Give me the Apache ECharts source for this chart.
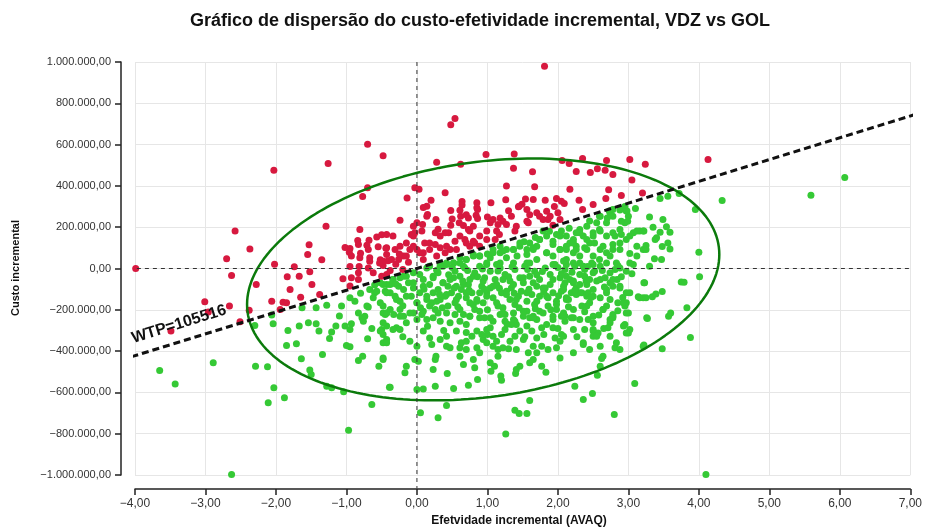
<!DOCTYPE html>
<html>
<head>
<meta charset="utf-8">
<script src="https://cdn.jsdelivr.net/npm/echarts@6.0.0/dist/echarts.min.js"></script>
<style>
  html, body { margin: 0; padding: 0; background: #fff; }
  #chart { width: 925px; height: 530px; }
</style>
</head>
<body>
<div id="chart"></div>
<script>
// willingness-to-pay threshold (slope of the dashed line)
const wtp = 105516

// 95% ellipse: centre and two half-axis vectors
const ellipseCenter = [0.94, -53e3]
const ellipseAxisU = [3.35, 121e3]
const ellipseAxisV = [0, -573e3]

// [incremental effect (AVAQ), incremental cost] - not cost-effective (above WTP)
const redPoints = [
  [-3.99, 0], [-2.03, 476e3], [-1.26, 508e3], [-0.70, 602e3], [-0.48, 546e3], [-0.70, 391e3], [-0.77, 349e3],
  [-2.58, 182e3], [-2.37, 94e3], [-2.70, 47e3], [-2.02, 21e3], [-1.74, 8e3], [-1.29, 205e3], [-1.53, 115e3],
  [-1.55, 68e3], [-1.35, 42e3], [-0.81, 189e3], [-1.02, 102e3], [-0.95, 97e3], [-0.96, 79e3], [-0.84, 136e3],
  [-0.83, 116e3], [-0.68, 137e3], [-0.71, 113e3], [-0.80, 74e3], [-0.57, 153e3], [-0.50, 163e3], [-0.55, 105e3],
  [-0.44, 98e3], [-0.67, 52e3], [-0.67, 35e3], [-0.52, 42e3], [-0.41, 37e3], [-0.95, 10e3], [-0.82, 10e3], [-0.48, 15e3],
  [-2.63, -34e3], [-2.28, -77e3], [-3.01, -161e3], [-2.96, -211e3], [-2.66, -182e3], [-3.49, -303e3], [-2.51, -258e3],
  [-1.84, -40e3], [-1.67, -37e3], [-1.52, -16e3], [-1.49, -77e3], [-1.80, -102e3], [-2.06, -158e3], [-1.90, -163e3],
  [-1.85, -166e3], [-1.94, -199e3], [-2.38, -202e3], [-1.65, -139e3], [-1.38, -126e3], [-1.05, -50e3], [-0.93, -45e3],
  [-0.95, -85e3], [-0.83, -21e3], [-0.83, -53e3], [-0.69, 3e3], [-0.62, -21e3], [-0.50, -37e3], [-0.53, 27e3], [-0.43, -29e3],
  [1.81, 980e3], [0.48, 696e3], [0.54, 726e3], [0.28, 515e3], [0.62, 505e3], [0.98, 552e3], [1.38, 555e3], [1.37, 486e3],
  [1.64, 468e3], [1.27, 399e3], [1.67, 396e3], [2.06, 523e3], [2.16, 508e3], [2.35, 533e3], [2.26, 470e3], [2.46, 465e3],
  [2.56, 483e3], [2.67, 476e3], [2.69, 523e3], [2.78, 455e3], [3.02, 528e3], [3.24, 505e3], [3.05, 428e3], [2.17, 384e3],
  [2.72, 381e3], [2.90, 354e3], [2.68, 339e3], [-0.03, 391e3], [0.03, 384e3], [-0.14, 342e3], [0.40, 367e3], [-0.24, 234e3],
  [1.98, 339e3], [2.05, 326e3], [2.09, 315e3], [1.82, 331e3], [1.65, 334e3], [1.54, 336e3], [1.49, 311e3], [1.44, 299e3],
  [1.26, 333e3], [1.05, 318e3], [0.85, 318e3], [0.85, 294e3], [0.84, 258e3], [0.86, 242e3], [0.64, 324e3], [0.64, 308e3],
  [0.61, 282e3], [0.62, 253e3], [0.60, 221e3], [0.66, 208e3], [0.48, 281e3], [0.48, 210e3], [0.45, 173e3], [0.14, 302e3],
  [0.09, 295e3], [0.15, 262e3], [0.08, 213e3], [0.07, 181e3], [0.11, 124e3], [0.27, 237e3], [0.26, 173e3], [0.26, 116e3],
  [-0.05, 205e3], [-0.08, 165e3], [-0.03, 173e3], [1.18, 245e3], [1.22, 229e3], [1.15, 213e3], [1.13, 181e3], [1.11, 140e3],
  [1.17, 165e3], [1.34, 253e3], [1.41, 205e3], [1.39, 181e3], [1.56, 286e3], [1.58, 221e3], [1.70, 270e3], [1.74, 253e3],
  [1.84, 277e3], [1.86, 237e3], [1.93, 210e3], [2.00, 270e3], [2.03, 237e3], [1.04, 221e3], [0.99, 181e3], [0.89, 157e3],
  [0.82, 124e3], [0.75, 108e3], [0.73, 189e3], [0.68, 140e3], [0.61, 157e3], [0.54, 132e3], [0.47, 92e3], [0.40, 76e3],
  [0.33, 100e3], [0.18, 92e3], [0.09, 76e3], [0.00, 92e3], [-0.34, 157e3], [-0.43, 100e3], [-0.31, 92e3], [-0.24, 108e3],
  [-0.15, 124e3], [-0.10, 92e3], [-0.19, 60e3], [-0.36, 44e3], [-0.48, 35e3], [-0.43, 165e3],
  [4.13, 528e3], [3.20, 366e3], [2.35, 286e3], [-0.69, 92e3], [-0.81, 52e3], [-0.93, 60e3],
  [0.14, 253e3], [-0.05, 157e3], [0.00, 221e3], [0.40, 173e3], [0.73, 245e3], [0.80, 205e3], [0.86, 286e3], [0.75, 181e3],
  [1.08, 237e3], [1.27, 213e3], [1.56, 229e3], [1.45, 302e3], [1.79, 237e3], [1.89, 253e3],
  [-0.43, 68e3], [-0.26, 44e3], [-0.15, 60e3], [-0.05, 108e3], [0.04, 76e3], [0.09, 44e3], [0.18, 124e3], [0.28, 60e3],
  [0.33, 157e3], [0.42, 108e3], [0.56, 92e3], [0.70, 124e3], [0.80, 132e3], [0.99, 140e3], [0.89, 108e3],
  [-0.30, 20e3], [-0.20, -5e3], [-0.12, 30e3], [-0.25, 70e3], [-0.38, -10e3],
  [1.00, 250e3], [1.30, 280e3], [0.50, 240e3], [0.30, 190e3], [0.20, 330e3], [1.60, 260e3], [1.95, 300e3], [2.30, 330e3],
  [2.50, 310e3], [0.70, 260e3]
]

// cost-effective points (below WTP)
const greenPoints = [
  [-3.65, -494e3], [-3.43, -559e3], [-2.89, -457e3], [-2.63, -998e3], [-2.30, -276e3], [-2.04, -268e3], [-2.29, -473e3],
  [-2.12, -476e3], [-2.03, -578e3], [-2.11, -650e3], [-1.88, -626e3], [-2.06, -225e3], [-1.85, -373e3], [-1.83, -300e3],
  [-1.71, -365e3], [-1.67, -279e3], [-1.63, -190e3], [-1.54, -263e3], [-1.43, -268e3], [-1.39, -303e3], [-1.64, -437e3],
  [-1.52, -492e3], [-1.50, -513e3], [-1.34, -416e3], [-1.43, -190e3], [-1.28, -178e3], [-1.24, -339e3], [-1.21, -307e3],
  [-1.15, -279e3], [-1.28, -570e3], [-1.21, -578e3], [-1.07, -182e3], [-1.04, -597e3], [-0.97, -783e3], [-1.02, -279e3],
  [-0.95, -295e3], [-0.93, -268e3], [-1.00, -373e3], [-0.95, -379e3], [-0.83, -446e3], [-0.77, -425e3], [-0.95, -142e3],
  [-0.88, -158e3], [-0.83, -215e3], [-0.78, -239e3], [-0.76, -255e3], [-0.74, -231e3], [-0.69, -186e3], [-0.71, -182e3],
  [-0.67, -102e3], [-0.60, -118e3], [-0.57, -110e3], [-0.62, -142e3], [-0.64, -291e3], [-0.50, -295e3], [-0.48, -320e3],
  [-0.45, -223e3], [-0.48, -215e3], [-0.43, -215e3], [-0.54, -473e3], [-0.48, -441e3], [-0.64, -659e3], [-0.39, -575e3],
  [-0.48, -360e3], [-0.43, -344e3],
  [-0.38, -575e3], [0.00, -586e3], [0.09, -583e3], [0.05, -699e3], [0.30, -723e3], [0.42, -663e3], [0.26, -570e3],
  [0.52, -581e3], [0.73, -565e3], [0.86, -538e3], [1.26, -801e3], [1.39, -686e3], [1.45, -702e3], [1.56, -702e3],
  [1.60, -639e3], [1.19, -521e3], [1.20, -541e3], [1.40, -508e3], [1.05, -497e3], [1.83, -502e3], [2.24, -570e3],
  [2.36, -634e3], [2.49, -605e3], [2.80, -707e3], [3.09, -557e3], [2.56, -517e3], [2.62, -436e3], [2.03, -433e3],
  [1.77, -473e3], [1.60, -457e3], [1.65, -441e3], [1.41, -489e3], [1.46, -473e3], [1.15, -425e3], [1.10, -473e3],
  [1.04, -457e3], [0.82, -481e3], [0.80, -441e3], [0.66, -465e3], [0.61, -425e3], [0.43, -509e3], [0.23, -489e3],
  [0.26, -441e3], [0.27, -425e3], [-0.03, -441e3], [0.02, -449e3], [-0.15, -473e3], [-0.17, -505e3], [-0.48, -433e3],
  [0.42, -376e3], [0.47, -384e3], [0.61, -384e3], [0.70, -392e3], [0.85, -384e3], [0.89, -408e3], [0.94, -344e3],
  [0.99, -360e3], [1.08, -376e3], [1.15, -392e3], [1.22, -384e3], [1.30, -389e3], [1.41, -392e3], [1.51, -344e3],
  [1.58, -408e3], [1.65, -376e3], [1.70, -408e3], [1.77, -376e3], [1.86, -392e3], [1.98, -384e3], [2.03, -352e3],
  [2.36, -368e3], [2.60, -376e3], [2.83, -360e3], [2.81, -384e3], [3.21, -376e3],
  [-0.43, -360e3], [-0.29, -287e3], [-0.24, -295e3], [-0.10, -352e3], [-0.34, -295e3], [-0.43, -279e3], [-0.52, -303e3],
  [0.00, -376e3], [0.09, -303e3], [0.18, -336e3], [0.21, -368e3], [0.33, -344e3], [0.42, -328e3], [0.56, -303e3],
  [0.63, -360e3], [0.70, -352e3], [0.78, -328e3], [0.85, -303e3], [0.92, -320e3], [0.99, -295e3], [1.08, -328e3],
  [1.13, -352e3], [1.20, -320e3], [1.25, -295e3], [1.32, -352e3], [1.39, -328e3], [1.46, -303e3], [1.56, -279e3],
  [1.63, -303e3], [1.70, -336e3], [1.77, -287e3], [1.84, -271e3], [1.93, -287e3], [1.96, -336e3], [2.05, -320e3],
  [2.22, -239e3], [2.38, -295e3], [2.50, -303e3], [2.57, -312e3], [2.50, -328e3], [2.74, -247e3], [2.78, -239e3],
  [2.71, -287e3], [2.95, -271e3], [3.00, -312e3], [3.02, -295e3], [3.26, -239e3], [2.97, -166e3], [3.00, -215e3],
  [2.95, -182e3], [3.14, -137e3], [3.21, -142e3], [3.23, -69e3], [2.85, -166e3], [2.78, -223e3], [2.69, -182e3],
  [2.64, -199e3], [2.45, -166e3], [2.50, -263e3], [2.43, -247e3], [2.34, -182e3], [2.41, -134e3], [2.43, -118e3],
  [2.19, -239e3], [2.10, -255e3], [2.05, -231e3], [2.08, -215e3], [1.93, -231e3], [1.98, -199e3], [1.86, -182e3],
  [1.74, -207e3], [1.70, -247e3], [1.65, -231e3], [1.56, -207e3], [1.60, -239e3], [1.51, -231e3], [1.39, -255e3],
  [1.41, -271e3], [1.37, -215e3], [1.34, -271e3], [1.25, -255e3], [1.25, -223e3], [1.18, -223e3], [1.08, -255e3],
  [1.04, -287e3], [0.96, -239e3], [0.89, -239e3], [0.82, -199e3], [0.75, -231e3], [0.70, -271e3], [0.66, -223e3],
  [0.61, -255e3], [0.54, -223e3], [0.47, -263e3], [0.44, -182e3], [0.33, -255e3], [0.30, -215e3], [0.26, -199e3],
  [0.21, -166e3], [0.14, -247e3], [0.07, -223e3], [0.00, -247e3], [-0.05, -215e3], [-0.15, -263e3], [-0.19, -231e3],
  [-0.24, -199e3], [-0.33, -223e3], [-0.43, -215e3], [-0.48, -182e3], [-0.52, -166e3], [-0.48, -263e3], [-0.38, -118e3],
  [-0.31, -134e3], [-0.45, -110e3], [-0.24, -158e3], [-0.19, -102e3], [-0.12, -69e3], [-0.08, -134e3], [0.00, -166e3],
  [0.04, -118e3], [0.09, -86e3], [0.14, -150e3], [0.18, -182e3], [0.23, -118e3], [0.30, -102e3], [0.33, -150e3],
  [0.40, -134e3], [0.44, -86e3], [0.49, -118e3], [0.54, -166e3], [0.59, -134e3], [0.63, -102e3], [0.70, -142e3],
  [0.75, -166e3], [0.78, -118e3], [0.85, -150e3], [0.89, -118e3], [0.94, -166e3], [0.99, -118e3], [1.04, -94e3],
  [1.08, -142e3], [1.15, -182e3], [1.20, -118e3], [1.27, -110e3], [1.32, -150e3], [1.39, -174e3], [1.44, -134e3],
  [1.48, -110e3], [1.56, -158e3], [1.63, -126e3], [1.67, -174e3], [1.74, -134e3], [1.82, -94e3], [1.86, -142e3],
  [1.93, -118e3], [1.98, -158e3], [2.05, -110e3], [2.12, -150e3], [2.19, -118e3], [2.26, -94e3], [2.34, -118e3],
  [2.41, -77e3], [2.50, -102e3], [2.60, -142e3], [2.69, -118e3], [2.78, -86e3], [2.84, -53e3], [2.88, -94e3], [3.02, -118e3],
  [-0.52, -69e3], [-0.43, -77e3], [-0.34, -53e3], [-0.24, -45e3], [-0.15, -37e3], [-0.05, -21e3], [0.04, -29e3],
  [0.14, 3e3], [0.23, -45e3], [0.30, -21e3], [0.37, 11e3], [0.47, -53e3], [0.54, -13e3], [0.61, -37e3], [0.68, 3e3],
  [0.75, -53e3], [0.82, -21e3], [0.89, 11e3], [0.96, -45e3], [1.04, -13e3], [1.11, -53e3], [1.18, 3e3], [1.25, -29e3],
  [1.32, -61e3], [1.39, -5e3], [1.46, -45e3], [1.53, 11e3], [1.60, -37e3], [1.67, -13e3], [1.74, -53e3], [1.82, 3e3],
  [1.89, -29e3], [1.96, 19e3], [2.03, -45e3], [2.10, -5e3], [2.17, -53e3], [2.24, 11e3], [2.31, -29e3], [2.38, -5e3],
  [2.45, -53e3], [2.52, -13e3], [2.60, 11e3], [2.67, -45e3], [2.74, -21e3], [2.81, -5e3], [2.88, 3e3], [2.97, -13e3], [3.07, 19e3],
  [-0.38, -77e3], [-0.26, -86e3], [-0.05, -94e3], [0.18, -77e3], [0.37, -69e3], [0.56, -86e3], [0.73, -77e3], [0.92, -86e3],
  [1.13, -77e3], [1.34, -94e3], [1.51, -69e3], [1.70, -86e3], [1.89, -77e3], [2.10, -69e3], [2.31, -77e3], [2.55, -61e3], [2.74, -69e3],
  [2.55, 221e3], [2.60, 253e3], [2.74, 270e3], [2.78, 286e3], [2.97, 278e3], [3.00, 253e3], [2.95, 221e3], [2.88, 189e3],
  [2.78, 173e3], [2.69, 157e3], [2.60, 181e3], [2.50, 157e3], [2.45, 124e3], [2.36, 157e3], [2.31, 189e3], [2.41, 205e3],
  [2.26, 108e3], [2.17, 124e3], [2.12, 157e3], [2.05, 181e3], [1.98, 165e3], [1.93, 132e3], [1.84, 157e3], [1.79, 181e3],
  [1.74, 140e3], [1.70, 108e3], [1.65, 92e3], [1.60, 124e3], [1.56, 92e3], [1.46, 108e3], [1.37, 92e3], [1.27, 92e3],
  [1.18, 76e3], [1.08, 92e3], [1.04, 52e3], [0.89, 60e3], [0.80, 60e3], [0.70, 44e3], [0.61, 27e3], [0.52, 27e3],
  [0.42, 19e3], [0.33, 11e3], [1.84, 76e3], [1.93, 60e3], [2.03, 92e3], [2.12, 44e3], [2.22, 76e3], [2.31, 60e3],
  [2.41, 92e3], [2.50, 60e3], [2.60, 92e3], [2.69, 76e3], [2.78, 92e3], [2.88, 124e3], [2.97, 140e3], [3.07, 173e3],
  [3.16, 181e3], [3.21, 92e3], [3.12, 60e3], [3.02, 27e3], [2.83, 27e3], [2.69, 27e3], [2.50, 19e3], [2.31, 27e3],
  [2.12, 19e3], [1.93, 19e3], [1.70, 44e3], [1.56, 27e3], [1.37, 27e3], [1.18, 27e3], [0.99, 19e3],
  [3.45, 339e3], [3.56, 350e3], [3.72, 363e3], [4.33, 329e3], [5.59, 355e3], [6.07, 441e3], [3.95, 286e3], [3.49, 237e3],
  [3.54, 202e3], [3.59, 176e3], [3.22, 181e3], [3.38, 140e3], [3.40, 149e3], [3.25, 111e3], [3.25, 92e3], [3.48, 107e3],
  [3.56, 124e3], [3.59, 95e3], [4.00, 79e3], [3.37, 47e3], [3.47, 44e3], [3.30, 11e3],
  [3.22, -69e3], [4.01, -40e3], [3.75, -65e3], [3.79, -66e3], [3.16, -142e3], [3.25, -142e3], [3.34, -137e3], [3.39, -123e3],
  [3.48, -111e3], [3.83, -190e3], [3.57, -231e3], [3.60, -215e3], [3.27, -242e3], [3.88, -334e3], [3.48, -389e3],
  [3.22, -371e3], [4.10, -998e3],
  [2.73, 278e3], [2.88, 283e3], [2.98, 278e3], [2.99, 229e3], [2.90, 229e3], [2.78, 253e3], [2.69, 221e3], [2.59, 253e3],
  [2.59, 189e3], [2.50, 173e3], [2.41, 140e3], [2.31, 173e3], [2.22, 140e3], [2.12, 108e3], [2.03, 92e3], [2.26, 92e3],
  [2.38, 100e3], [2.52, 124e3], [2.64, 108e3], [2.78, 116e3], [2.88, 92e3], [2.74, 60e3], [2.59, 44e3], [2.48, 27e3],
  [2.36, 11e3], [2.22, 27e3], [2.10, 36e3], [3.02, 157e3], [2.90, 165e3], [2.81, 157e3], [3.12, 181e3], [3.21, 181e3],
  [3.12, 108e3], [3.02, 73e3],
  [2.12, -37e3], [2.22, -69e3], [2.08, -102e3], [2.31, -118e3], [2.15, -150e3], [2.38, -37e3], [2.50, -21e3], [2.60, -53e3],
  [2.69, -102e3], [2.78, -53e3], [2.88, -86e3], [2.97, -118e3], [2.93, -166e3], [2.74, -150e3], [2.50, -134e3], [2.41, -182e3],
  [2.22, -199e3], [2.10, -231e3], [2.31, -247e3], [2.50, -231e3], [2.64, -199e3], [2.78, -231e3], [2.97, -215e3], [2.93, -279e3],
  [2.74, -263e3], [2.50, -295e3], [2.22, -295e3], [2.08, -328e3], [2.36, -360e3], [2.55, -328e3], [2.74, -328e3], [2.97, -312e3],
  [2.88, -392e3], [2.64, -425e3], [2.45, -392e3], [2.22, -408e3], [2.60, -473e3],
  [0.33, 19e3], [0.42, 27e3], [0.52, 27e3], [0.61, 52e3], [0.70, 44e3], [0.80, 68e3], [0.89, 60e3], [0.99, 27e3],
  [1.08, 76e3], [1.18, 108e3], [1.27, 52e3], [1.37, 92e3], [1.46, 124e3], [1.56, 68e3], [1.65, 100e3], [1.74, 140e3],
  [1.84, 76e3], [1.93, 116e3], [2.03, 157e3], [2.12, 92e3], [2.22, 124e3], [2.26, 173e3], [0.18, 11e3], [0.66, 11e3],
  [1.13, 19e3], [1.60, 27e3], [2.08, 36e3],
  [-0.48, -77e3], [-0.34, -53e3], [-0.19, -37e3], [-0.05, -69e3], [0.09, -53e3], [0.23, -37e3], [0.37, -69e3], [0.52, -45e3],
  [0.66, -77e3], [0.80, -37e3], [0.94, -61e3], [1.08, -86e3], [1.22, -53e3], [1.37, -77e3], [1.51, -45e3], [1.65, -69e3],
  [1.79, -94e3], [1.93, -53e3], [2.08, -86e3], [2.22, -61e3],
  [-0.43, -118e3], [-0.29, -150e3], [-0.15, -134e3], [0.00, -166e3], [0.14, -134e3], [0.28, -158e3], [0.42, -126e3],
  [0.56, -150e3], [0.70, -118e3], [0.85, -158e3], [0.99, -134e3], [1.13, -166e3], [1.27, -126e3], [1.41, -150e3],
  [1.56, -118e3], [1.70, -158e3], [1.84, -134e3], [1.98, -174e3], [2.12, -142e3], [2.26, -126e3],
  [-0.38, -199e3], [-0.24, -231e3], [-0.10, -215e3], [0.09, -207e3], [0.23, -239e3], [0.42, -215e3], [0.61, -199e3],
  [0.75, -231e3], [0.89, -207e3], [1.04, -239e3], [1.22, -215e3], [1.37, -247e3], [1.51, -207e3], [1.65, -239e3],
  [1.79, -215e3], [1.93, -247e3], [2.08, -223e3],
  [0.28, -8e3], [0.50, 5e3], [0.72, -10e3], [0.93, -3e3], [1.15, -12e3], [1.35, 8e3], [1.57, -5e3], [1.78, -15e3],
  [2.00, 5e3], [2.20, -18e3], [2.42, 10e3], [2.63, -10e3], [2.85, 15e3], [3.05, -25e3],
  [0.10, -100e3], [0.32, -125e3], [0.53, -95e3], [0.74, -105e3], [0.96, -100e3], [1.17, -96e3], [1.38, -120e3],
  [1.59, -100e3], [1.80, -115e3], [2.01, -132e3], [2.24, -105e3], [2.47, -140e3], [2.66, -90e3], [2.92, -140e3],
  [-0.20, -180e3], [0.05, -190e3], [0.36, -190e3], [0.58, -185e3], [0.80, -175e3], [1.00, -200e3], [1.22, -190e3],
  [1.45, -190e3], [1.68, -195e3], [1.90, -200e3], [2.15, -185e3], [2.38, -210e3], [2.58, -225e3], [2.85, -205e3],
  [1.00, 70e3], [1.22, 85e3], [1.42, 60e3], [1.52, 130e3], [1.68, 150e3], [1.88, 180e3], [2.16, 195e3], [2.45, 230e3],
  [2.70, 245e3], [2.95, 300e3], [3.10, 290e3], [3.30, 250e3], [3.35, 200e3], [3.45, 175e3],
  [0.15, -280e3], [0.38, -300e3], [0.70, -310e3], [1.00, -320e3], [1.28, -270e3], [1.53, -330e3], [1.80, -320e3],
  [2.00, -290e3], [2.27, -330e3], [2.65, -290e3],
  [0.45, -30e3], [0.65, -60e3], [0.86, -40e3], [1.30, -40e3], [1.70, -30e3], [2.05, -25e3], [2.40, -60e3], [2.90, -40e3],
  [-0.80, -120e3], [-0.30, -75e3], [-0.60, -80e3], [-1.10, -230e3], [-0.20, -330e3], [-0.70, -340e3]
]

const xMin = -4, xMax = 7
const yMin = -1e6, yMax = 1e6
const axisFont = '"Liberation Sans", Arial, sans-serif'

// pt-BR style: 1.000.000,00 with a true minus sign
function fmtBR(v) {
    const parts = Math.abs(v).toFixed(2).split('.')
    const int = parts[0].replace(/\B(?=(\d{3})+(?!\d))/g, '.')
    return (v < 0 ? '\u2212' : '') + int + ',' + parts[1]
}

const ellipse = []
for (let i = 0; i <= 200; i++) {
    const t = i / 200 * Math.PI * 2
    const c = Math.cos(t), s = Math.sin(t)
    ellipse.push([
        ellipseCenter[0] + ellipseAxisU[0] * c + ellipseAxisV[0] * s,
        ellipseCenter[1] + ellipseAxisU[1] * c + ellipseAxisV[1] * s
    ])
}

const lineEnds = [-4.2, 7.2]

const chart = echarts.init(document.getElementById('chart'), null, { renderer: 'canvas' })

const option = {
    animation: false,
    backgroundColor: '#fff',
    grid: { left: 135, right: 14.5, top: 62, bottom: 55, containLabel: false },
    xAxis: {
        type: 'value',
        min: xMin,
        max: xMax,
        interval: 1,
        offset: 14,
        axisLine: { show: true, onZero: false, lineStyle: { color: '#222', width: 1.5 } },
        axisTick: { show: true, length: 6, lineStyle: { color: '#222', width: 1.5 } },
        axisLabel: {
            margin: 9,
            color: '#333',
            fontSize: 12,
            fontFamily: axisFont,
            formatter: v => fmtBR(v)
        },
        splitLine: { show: true, lineStyle: { color: '#e6e6e6', width: 1 } }
    },
    yAxis: {
        type: 'value',
        min: yMin,
        max: yMax,
        interval: 200000,
        offset: 14,
        axisLine: { show: true, onZero: false, lineStyle: { color: '#222', width: 1.5 } },
        axisTick: { show: true, length: 6, lineStyle: { color: '#222', width: 1.5 } },
        axisLabel: {
            margin: 10,
            color: '#333',
            fontSize: 11,
            fontFamily: axisFont,
            formatter: v => fmtBR(v)
        },
        splitLine: { show: true, lineStyle: { color: '#e6e6e6', width: 1 } }
    },
    series: [
        {
            name: 'custo-efetivo',
            type: 'scatter',
            data: greenPoints,
            symbolSize: 7,
            itemStyle: { color: '#35c935', opacity: 1 },
            z: 2
        },
        {
            name: 'não custo-efetivo',
            type: 'scatter',
            data: redPoints,
            symbolSize: 7,
            itemStyle: { color: '#d7193f', opacity: 1 },
            z: 2
        },
        {
            name: 'elipse',
            type: 'line',
            data: ellipse,
            showSymbol: false,
            symbol: 'none',
            lineStyle: { color: '#0b7a0b', width: 2.5 },
            z: 3
        },
        {
            name: 'eixo x 0',
            type: 'line',
            data: [[lineEnds[0], 0], [lineEnds[1], 0]],
            symbol: 'none',
            clip: false,
            lineStyle: { color: '#333', width: 1, type: [4, 4] },
            z: 4
        },
        {
            name: 'eixo y 0',
            type: 'line',
            data: [[0, yMax], [0, -1.065e6]],
            symbol: 'none',
            clip: false,
            lineStyle: { color: '#333', width: 1, type: [4, 4] },
            z: 4
        },
        {
            name: 'WTP',
            type: 'line',
            data: lineEnds.map(x => [x, wtp * x]),
            symbol: 'none',
            clip: false,
            lineStyle: { color: '#111', width: 3, type: [7, 4] },
            z: 5
        }
    ]
}

chart.setOption(option)

// label sits just above the WTP line, rotated along it
const p0 = chart.convertToPixel({ gridIndex: 0 }, [-3.97, wtp * -3.97])
const p1 = chart.convertToPixel({ gridIndex: 0 }, [7, wtp * 7])
const ang = Math.atan2(p0[1] - p1[1], p1[0] - p0[0])
const gap = 9

chart.setOption({
    graphic: [
        {
            type: 'text',
            x: 480,
            y: 21,
            style: {
                text: 'Gráfico de dispersão do custo-efetividade incremental, VDZ vs GOL',
                font: 'bold 18px "Liberation Sans", Arial, sans-serif',
                fill: '#111',
                textAlign: 'center',
                textVerticalAlign: 'middle'
            }
        },
        {
            type: 'text',
            x: 16,
            y: 268,
            rotation: Math.PI / 2,
            style: {
                text: 'Custo incremental',
                font: 'bold 11px "Liberation Sans", Arial, sans-serif',
                fill: '#111',
                textAlign: 'center',
                textVerticalAlign: 'middle'
            }
        },
        {
            type: 'text',
            x: 519,
            y: 521,
            style: {
                text: 'Efetvidade incremental (AVAQ)',
                font: 'bold 12px "Liberation Sans", Arial, sans-serif',
                fill: '#111',
                textAlign: 'center',
                textVerticalAlign: 'middle'
            }
        },
        {
            type: 'text',
            x: p0[0] - gap * Math.sin(ang),
            y: p0[1] - gap * Math.cos(ang),
            rotation: ang,
            style: {
                text: 'WTP=' + wtp,
                font: 'bold 16px "Liberation Sans", Arial, sans-serif',
                fill: '#111',
                textAlign: 'left',
                textVerticalAlign: 'bottom'
            },
            z: 10
        }
    ]
})
</script>
</body>
</html>
